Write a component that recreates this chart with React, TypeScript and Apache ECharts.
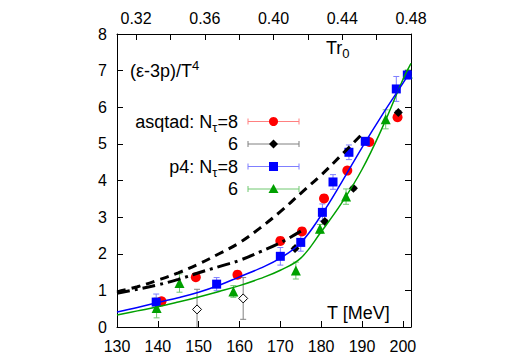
import React, { useEffect, useRef } from "react";
import * as echarts from "echarts";

// ---------- axes ----------
const T_MIN = 130;
const T_MAX = 202;
const R0_PER_MEV = 0.48 / 202; // T*r0 scale for top axis
const xTickValues = [130, 140, 150, 160, 170, 180, 190, 200];
const topLabelValues = [0.32, 0.36, 0.4, 0.44, 0.48];
const topTickValues = [0.32, 0.34, 0.36, 0.38, 0.4, 0.42, 0.44, 0.46, 0.48];
const Y_MIN = 0;
const Y_MAX = 8;

// ---------- data: asqtad Ntau=8 (red circles) ----------
const asqtad8T = [140.9, 149.3, 159.5, 170.0, 175.3, 180.7, 186.4, 191.8, 198.7];
const asqtad8V = [0.7, 1.36, 1.43, 2.35, 2.61, 3.51, 4.27, 5.05, 5.73];
const asqtad8E = [0.1, 0.08, 0.08, 0.1, 0.08, 0.1, 0.1, 0.08, 0.1];

// ---------- asqtad Ntau=6 (black diamonds) ----------
const asqtad6T = [173.6, 180.9, 187.9, 198.9];
const asqtad6V = [2.14, 2.88, 3.79, 5.86];
const asqtad6E = [0.05, 0.05, 0.05, 0.05];
// open diamonds (low T, large errors)
const asqtad6OpenT = [149.6, 160.9];
const asqtad6OpenV = [0.48, 0.78];
const asqtad6OpenE = [0.55, 0.57];

// ---------- p4 Ntau=8 (blue squares) ----------
const p4n8T = [139.6, 154.4, 170.0, 175.0, 180.3, 182.9, 186.8, 190.8, 198.4, 201.1];
const p4n8V = [0.68, 1.17, 1.93, 2.31, 3.13, 3.96, 4.77, 5.07, 6.5, 6.88];
const p4n8E = [0.22, 0.18, 0.24, 0.24, 0.23, 0.2, 0.2, 0.1, 0.34, 0.1];

// ---------- p4 Ntau=6 (green triangles) ----------
const p4n6T = [139.7, 145.3, 158.5, 173.8, 179.7, 186.1, 195.8, 201.2];
const p4n6V = [0.52, 1.2, 0.97, 1.54, 2.68, 3.56, 5.67, 6.92];
const p4n6E = [0.27, 0.25, 0.16, 0.23, 0.12, 0.21, 0.26, 0.1];

// ---------- curves ----------
const dashT = [130, 135, 140, 145, 150, 155, 160, 165, 170, 175, 180, 185, 190.3];
const dashV = [0.96, 1.1, 1.28, 1.48, 1.72, 2.0, 2.3, 2.7, 3.15, 3.65, 4.15, 4.7, 5.3];
const dashDotT = [130, 135, 140, 145, 150, 155, 160, 165, 170, 175.5];
const dashDotV = [0.92, 1.03, 1.15, 1.3, 1.48, 1.65, 1.82, 2.05, 2.3, 2.65];
const fitBlueT = [130, 135, 140, 145, 150, 155, 160, 165, 170, 175, 180, 185, 190, 195, 200, 202];
const fitBlueV = [0.41, 0.53, 0.67, 0.8, 0.95, 1.14, 1.37, 1.6, 1.88, 2.3, 3.05, 3.95, 4.9, 5.8, 6.65, 7.0];
const fitGreenT = [130, 135, 140, 145, 150, 155, 160, 165, 170, 175, 180, 185, 190, 195, 200, 202];
const fitGreenV = [0.33, 0.44, 0.55, 0.68, 0.82, 0.97, 1.13, 1.32, 1.55, 1.88, 2.6, 3.38, 4.3, 5.45, 6.75, 7.2];

// ---------- legend ----------
const legendLabels = ["asqtad: N{s|τ}=8", "6", "p4: N{s|τ}=8", "6"];

const FONT = "'Liberation Sans', Arial, Helvetica, sans-serif";
const RED = "#ff0000";
const BLUE = "#0000ff";
const GREEN = "#00a000";
const BLACK = "#000000";
const RED_ERR = "#ff8080";
const BLUE_ERR = "#7f7fff";
const GREEN_ERR = "#70c870";
const BLACK_ERR = "#808080";

const pairs = (a: number[], b: number[]) => a.map((t, i) => [t, b[i]]);
const triples = (a: number[], b: number[], c: number[]) => a.map((t, i) => [t, b[i], c[i]]);

function errSeries(data: number[][], color: string) {
  return {
    type: "custom",
    clip: true,
    silent: true,
    data,
    encode: { x: 0, y: 1 },
    renderItem: (params: any, api: any) => {
      const x = api.value(0);
      const y = api.value(1);
      const e = api.value(2);
      const p1 = api.coord([x, y + e]);
      const p2 = api.coord([x, y - e]);
      const cw = 3;
      const style = { stroke: color, lineWidth: 1, fill: "none" };
      return {
        type: "group",
        children: [
          { type: "line", shape: { x1: p1[0], y1: p1[1], x2: p2[0], y2: p2[1] }, style },
          { type: "line", shape: { x1: p1[0] - cw, y1: p1[1], x2: p1[0] + cw, y2: p1[1] }, style },
          { type: "line", shape: { x1: p2[0] - cw, y1: p2[1], x2: p2[0] + cw, y2: p2[1] }, style },
        ],
      };
    },
  };
}

function curve(data: number[][], color: string, width: number, type: any) {
  return {
    type: "line",
    data,
    smooth: 0.4,
    showSymbol: false,
    symbol: "none",
    silent: true,
    clip: true,
    lineStyle: { color, width, type },
  };
}

function scatter(data: number[][], symbol: string, size: number, color: string, border?: string) {
  return {
    type: "scatter",
    data,
    symbol,
    symbolSize: size,
    silent: true,
    itemStyle: border
      ? { color: "#ffffff", borderColor: border, borderWidth: 1, opacity: 1 }
      : { color, opacity: 1 },
  };
}

function legendGraphic() {
  const rowsY = [121.5, 144, 166.5, 189];
  const textRight = 238;
  const lx1 = 248;
  const lx2 = 299;
  const mx = 273.5;
  const errColors = [RED_ERR, BLACK_ERR, BLUE_ERR, GREEN_ERR];
  const els: any[] = [];
  rowsY.forEach((y, i) => {
    els.push({
      type: "text",
      x: textRight,
      y,
      style: {
        text: legendLabels[i],
        align: "right",
        verticalAlign: "middle",
        fontSize: 18,
        fontFamily: FONT,
        fill: BLACK,
        rich: {
          s: { fontSize: 13, fontFamily: FONT, verticalAlign: "bottom", lineHeight: 12, fill: BLACK },
        },
        lineHeight: 24,
      },
    });
    const st = { stroke: errColors[i], lineWidth: 1 };
    els.push({ type: "line", shape: { x1: lx1, y1: y, x2: lx2, y2: y }, style: st });
    els.push({ type: "line", shape: { x1: lx1, y1: y - 3, x2: lx1, y2: y + 3 }, style: st });
    els.push({ type: "line", shape: { x1: lx2, y1: y - 3, x2: lx2, y2: y + 3 }, style: st });
  });
  els.push({ type: "circle", shape: { cx: mx, cy: rowsY[0], r: 4.5 }, style: { fill: RED } });
  els.push({
    type: "polygon",
    shape: { points: [[mx, rowsY[1] - 4.5], [mx + 4.5, rowsY[1]], [mx, rowsY[1] + 4.5], [mx - 4.5, rowsY[1]]] },
    style: { fill: BLACK },
  });
  els.push({ type: "rect", shape: { x: mx - 4.5, y: rowsY[2] - 4.5, width: 9, height: 9 }, style: { fill: BLUE } });
  els.push({
    type: "polygon",
    shape: { points: [[mx, rowsY[3] - 5], [mx + 5, rowsY[3] + 4], [mx - 5, rowsY[3] + 4]] },
    style: { fill: GREEN },
  });
  // in-plot texts
  els.push({
    type: "text",
    x: 130,
    y: 71,
    style: {
      text: "(ε-3p)/T{p|4}",
      verticalAlign: "middle",
      fontSize: 18,
      fontFamily: FONT,
      fill: BLACK,
      lineHeight: 24,
      rich: { p: { fontSize: 13, fontFamily: FONT, verticalAlign: "top", lineHeight: 12, fill: BLACK } },
    },
  });
  els.push({
    type: "text",
    x: 326,
    y: 48,
    style: {
      text: "Tr{s|0}",
      verticalAlign: "middle",
      fontSize: 18,
      fontFamily: FONT,
      fill: BLACK,
      lineHeight: 24,
      rich: { s: { fontSize: 13, fontFamily: FONT, verticalAlign: "bottom", lineHeight: 12, fill: BLACK } },
    },
  });
  els.push({
    type: "text",
    x: 327,
    y: 313,
    style: { text: "T [MeV]", verticalAlign: "middle", fontSize: 18, fontFamily: FONT, fill: BLACK },
  });
  return els;
}

const axisCommon = {
  axisLine: { show: true, onZero: false, lineStyle: { color: BLACK, width: 1 } },
  splitLine: { show: false },
};

const option: any = {
  animation: false,
  backgroundColor: "#ffffff",
  grid: { left: 117, right: 107, top: 34, bottom: 36, containLabel: false },
  xAxis: [
    {
      ...axisCommon,
      type: "value",
      position: "bottom",
      min: T_MIN,
      max: T_MAX,
      axisTick: { show: true, inside: true, length: 6, customValues: xTickValues, lineStyle: { color: BLACK } },
      axisLabel: { customValues: xTickValues, fontSize: 16, fontFamily: FONT, color: BLACK, margin: 11 },
    },
    {
      ...axisCommon,
      type: "value",
      position: "top",
      min: T_MIN * R0_PER_MEV,
      max: T_MAX * R0_PER_MEV,
      axisTick: { show: true, inside: true, length: 6, customValues: topTickValues, lineStyle: { color: BLACK } },
      axisLabel: {
        customValues: topLabelValues,
        fontSize: 16,
        fontFamily: FONT,
        color: BLACK,
        margin: 8,
        formatter: (v: number) => v.toFixed(2),
      },
    },
  ],
  yAxis: [
    {
      ...axisCommon,
      type: "value",
      position: "left",
      min: Y_MIN,
      max: Y_MAX,
      interval: 1,
      axisTick: { show: true, inside: true, length: 6, lineStyle: { color: BLACK } },
      axisLabel: { fontSize: 16, fontFamily: FONT, color: BLACK, margin: 10 },
    },
    {
      ...axisCommon,
      type: "value",
      position: "right",
      min: Y_MIN,
      max: Y_MAX,
      interval: 1,
      axisTick: { show: true, inside: true, length: 6, lineStyle: { color: BLACK } },
      axisLabel: { show: false },
    },
  ],
  graphic: legendGraphic(),
  series: [
    curve(pairs(dashT, dashV), BLACK, 3, [9, 6]),
    curve(pairs(dashDotT, dashDotV), BLACK, 3, [13, 5, 3, 5]),
    errSeries(triples(asqtad6OpenT, asqtad6OpenV, asqtad6OpenE), BLACK_ERR),
    errSeries(triples(asqtad8T, asqtad8V, asqtad8E), RED_ERR),
    errSeries(triples(asqtad6T, asqtad6V, asqtad6E), BLACK_ERR),
    errSeries(triples(p4n6T, p4n6V, p4n6E), GREEN_ERR),
    errSeries(triples(p4n8T, p4n8V, p4n8E), BLUE_ERR),
    scatter(pairs(asqtad6OpenT, asqtad6OpenV), "diamond", 9, "#fff", BLACK),
    scatter(pairs(asqtad8T, asqtad8V), "circle", 10, RED),
    scatter(pairs(asqtad6T, asqtad6V), "diamond", 9, BLACK),
    curve(pairs(fitGreenT, fitGreenV), GREEN, 1.5, "solid"),
    scatter(pairs(p4n6T, p4n6V), "triangle", 10, GREEN),
    curve(pairs(fitBlueT, fitBlueV), BLUE, 1.5, "solid"),
    scatter(pairs(p4n8T, p4n8V), "rect", 9, BLUE),
  ],
};

export default function App() {
  const ref = useRef<HTMLDivElement>(null);
  useEffect(() => {
    if (!ref.current) return;
    const chart = echarts.init(ref.current, null, { renderer: "svg" });
    chart.setOption(option);
    return () => chart.dispose();
  }, []);
  return (
    <div
      ref={ref}
      style={{ position: "fixed", left: 0, top: 0, width: 518, height: 363, background: "#fff" }}
    />
  );
}
